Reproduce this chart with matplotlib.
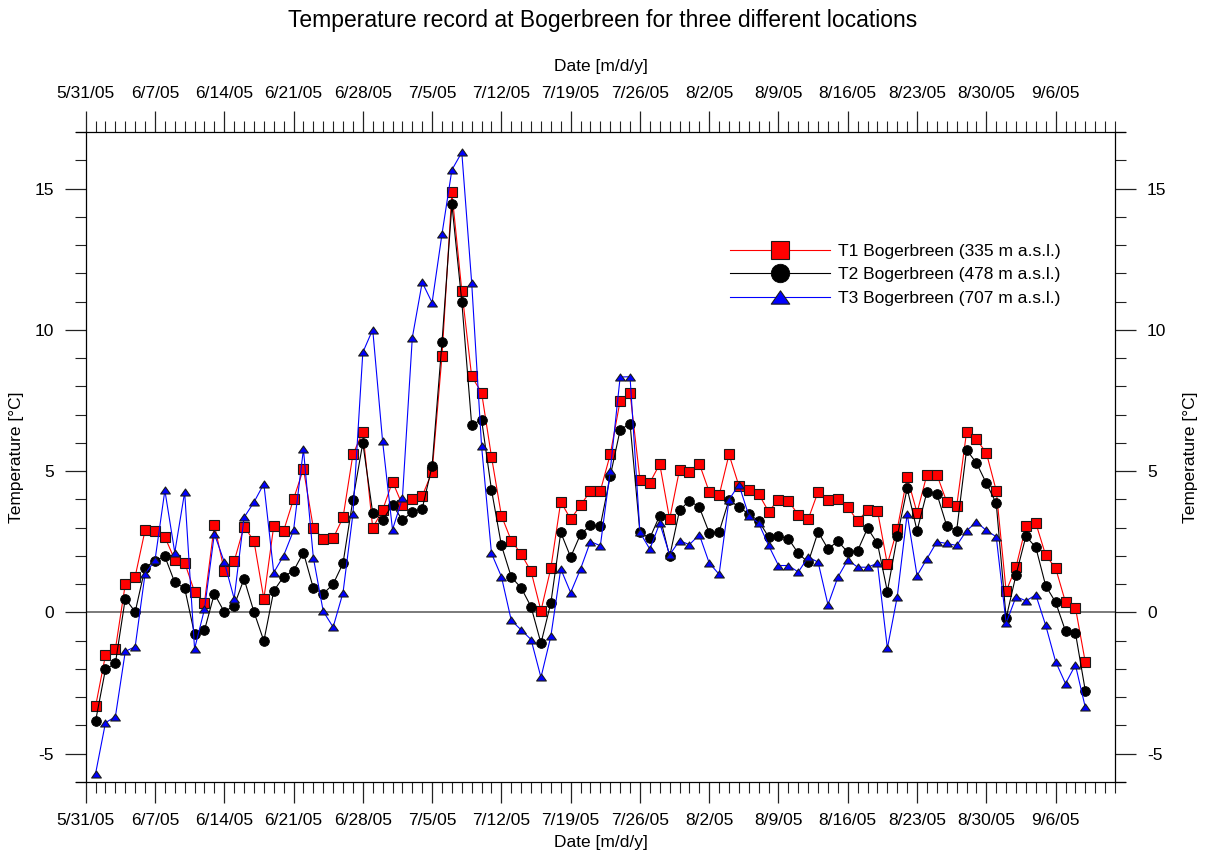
import numpy as np
import pandas as pd
import matplotlib
matplotlib.use('Agg')
import matplotlib.pyplot as plt
import matplotlib.dates as mdates
from matplotlib.ticker import FixedLocator, FuncFormatter, MultipleLocator
from matplotlib.path import Path

plt.rcParams['font.family'] = ['Liberation Sans', 'DejaVu Sans']
plt.rcParams['axes.unicode_minus'] = False

# ---------------- data ----------------
dates = pd.date_range('2005-06-01', '2005-09-09', freq='D')

t1 = [-3.32, -1.51, -1.30, 1.00, 1.27, 2.91, 2.88, 2.67, 1.86, 1.76,
      0.73, 0.35, 3.10, 1.48, 1.81, 3.04, 2.53, 0.48, 3.06, 2.89,
      4.01, 5.08, 2.99, 2.61, 2.62, 3.36, 5.59, 6.39, 2.99, 3.62,
      4.63, 3.80, 4.03, 4.12, 4.97, 9.08, 14.86, 11.39, 8.35, 7.78,
      5.51, 3.43, 2.54, 2.07, 1.45, 0.06, 1.57, 3.92, 3.30, 3.79,
      4.30, 4.30, 5.59, 7.49, 7.77, 4.70, 4.59, 5.25, 3.30, 5.05,
      4.97, 5.26, 4.27, 4.14, 5.59, 4.48, 4.34, 4.19, 3.57, 3.99,
      3.95, 3.45, 3.30, 4.27, 3.99, 4.02, 3.73, 3.23, 3.63, 3.60,
      1.71, 2.95, 4.79, 3.53, 4.88, 4.88, 3.91, 3.75, 6.38, 6.12,
      5.65, 4.31, 0.75, 1.61, 3.05, 3.16, 2.02, 1.57, 0.36, 0.17, -1.76]

t2 = [-3.84, -2.01, -1.80, 0.49, 0.02, 1.58, 1.83, 1.98, 1.06, 0.86,
      -0.77, -0.63, 0.66, 0.02, 0.24, 1.19, 0.02, -1.01, 0.76, 1.27,
      1.47, 2.12, 0.86, 0.66, 1.00, 1.74, 3.99, 6.00, 3.52, 3.26,
      3.81, 3.27, 3.56, 3.67, 5.18, 9.56, 14.44, 11.00, 6.63, 6.82,
      4.34, 2.38, 1.25, 0.87, 0.20, -1.09, 0.34, 2.83, 1.96, 2.77,
      3.08, 3.07, 4.82, 6.46, 6.68, 2.83, 2.63, 3.43, 1.98, 3.61,
      3.96, 3.72, 2.82, 2.85, 3.99, 3.73, 3.48, 3.24, 2.67, 2.70,
      2.61, 2.09, 1.77, 2.85, 2.25, 2.52, 2.13, 2.19, 2.98, 2.44,
      0.74, 2.69, 4.39, 2.89, 4.27, 4.20, 3.06, 2.89, 5.75, 5.29,
      4.57, 3.86, -0.20, 1.33, 2.70, 2.30, 0.94, 0.36, -0.66, -0.72, -2.77]

t3 = [-5.70, -3.90, -3.69, -1.38, -1.21, 1.37, 1.84, 4.32, 2.12, 4.26,
      -1.29, 0.11, 2.78, 1.79, 0.49, 3.36, 3.90, 4.55, 1.41, 2.01,
      2.90, 5.77, 1.94, 0.04, -0.52, 0.70, 3.48, 9.20, 10.01, 6.05,
      2.93, 4.04, 9.72, 11.68, 10.96, 13.39, 15.66, 16.28, 11.66, 5.88,
      2.09, 1.27, -0.28, -0.62, -0.96, -2.30, -0.84, 1.54, 0.70, 1.54,
      2.51, 2.36, 5.02, 8.33, 8.34, 2.83, 2.24, 3.16, 2.04, 2.54,
      2.40, 2.75, 1.75, 1.35, 3.99, 4.52, 3.43, 3.16, 2.37, 1.66,
      1.66, 1.43, 1.96, 1.78, 0.27, 1.25, 1.86, 1.60, 1.60, 1.74,
      -1.27, 0.56, 3.49, 1.30, 1.90, 2.50, 2.44, 2.37, 2.89, 3.20,
      2.90, 2.68, -0.38, 0.56, 0.41, 0.62, -0.46, -1.74, -2.52, -1.86, -3.36]

series_labels = ['T1 Bogerbreen (335 m a.s.l.)',
                 'T2 Bogerbreen (478 m a.s.l.)',
                 'T3 Bogerbreen (707 m a.s.l.)']
title = 'Temperature record at Bogerbreen for three different locations'
xlabel = 'Date [m/d/y]'
ylabel = 'Temperature [°C]'

major_dates = pd.date_range('2005-05-31', '2005-09-06', freq='7D')
minor_dates = pd.date_range('2005-05-31', '2005-09-12', freq='D')
axis_start = pd.Timestamp('2005-05-30')
axis_end = pd.Timestamp('2005-09-13')

# ---------------- figure ----------------
W, H = 1206, 852
fig = plt.figure(figsize=(W / 100, H / 100), dpi=100)
x_l, x_r = 75.8, 1124.9
y_t, y_b = 132, 782
ax = fig.add_axes([x_l / W, 1 - y_b / H, (x_r - x_l) / W, (y_b - y_t) / H])

xmin = mdates.date2num(axis_start)
xmax = mdates.date2num(axis_end)
span = xmax - xmin
ax.set_xlim(xmin, xmax)
ax.set_ylim(-6, 17)

left_pos = (mdates.date2num(minor_dates[0]) - xmin) / span
right_pos = (mdates.date2num(minor_dates[-1]) - xmin) / span
ax.spines['left'].set_position(('axes', left_pos))
ax.spines['right'].set_position(('axes', right_pos))
for s in ax.spines.values():
    s.set_linewidth(0.9)
    s.set_color('black')

# zero line between the y spines
ax.hlines(0, mdates.date2num(minor_dates[0]), mdates.date2num(minor_dates[-1]),
          color='#7a7a7a', lw=1.4, zorder=1)

tri = Path([(0, 0.72), (-1, -0.72), (1, -0.72), (0, 0.72)], closed=True)

ax.plot(dates, t1, color='#ff0000', lw=0.8, marker='s', ms=6.8,
        mfc='#ff0000', mec='#1a1a1a', mew=0.8, label=series_labels[0], zorder=3)
ax.plot(dates, t2, color='black', lw=0.8, marker='o', ms=7.0,
        mfc='black', mec='black', mew=0.6, label=series_labels[1], zorder=4)
ax.plot(dates, t3, color='#0000ff', lw=0.8, marker=tri, ms=7.0,
        mfc='#0000ff', mec='#1a1a1a', mew=0.8, label=series_labels[2], zorder=5)

# ticks
ax.xaxis.set_major_locator(FixedLocator(mdates.date2num(major_dates)))
ax.xaxis.set_minor_locator(FixedLocator(mdates.date2num(minor_dates)))


def fmt(v, pos):
    d = mdates.num2date(v)
    return f"{d.month}/{d.day}/{d:%y}"


ax.xaxis.set_major_formatter(FuncFormatter(fmt))
ax.yaxis.set_major_locator(MultipleLocator(5))
ax.yaxis.set_minor_locator(MultipleLocator(1))

ax.tick_params(axis='x', which='both', direction='out', top=True, bottom=True,
               labeltop=True, labelbottom=True, color='#222222')
ax.tick_params(axis='x', which='major', length=15, width=0.9, labelsize=12.5, pad=7)
ax.tick_params(axis='x', which='minor', length=8, width=0.8)
ax.tick_params(axis='y', which='both', direction='out', left=True, right=True,
               labelleft=True, labelright=True, color='#222222')
ax.tick_params(axis='y', which='major', length=15, width=0.9, labelsize=12.5, pad=8)
ax.tick_params(axis='y', which='minor', length=7.7, width=0.8)

# texts
fig.text(0.5, 1 - 20 / H, title, ha='center', va='center', fontsize=16.5)
fig.text((85.7 + 1115.5) / 2 / W, 1 - 66 / H, xlabel, ha='center', va='center', fontsize=12.5)
fig.text((85.7 + 1115.5) / 2 / W, 1 - 843 / H, xlabel, ha='center', va='center', fontsize=12.5)
fig.text(17 / W, 1 - 457 / H, ylabel, ha='center', va='center', rotation=90, fontsize=12.5)
fig.text(1190 / W, 1 - 457 / H, ylabel, ha='center', va='center', rotation=90, fontsize=12.5)

ax.legend(loc='upper left', bbox_to_anchor=(730 / W, 1 - 243.5 / H),
          bbox_transform=fig.transFigure, frameon=False, fontsize=12.5,
          handlelength=5.75, handletextpad=0.46, labelspacing=0.5,
          borderpad=0, borderaxespad=0, markerscale=1.9, numpoints=1)

fig.savefig('out.png', dpi=100)
